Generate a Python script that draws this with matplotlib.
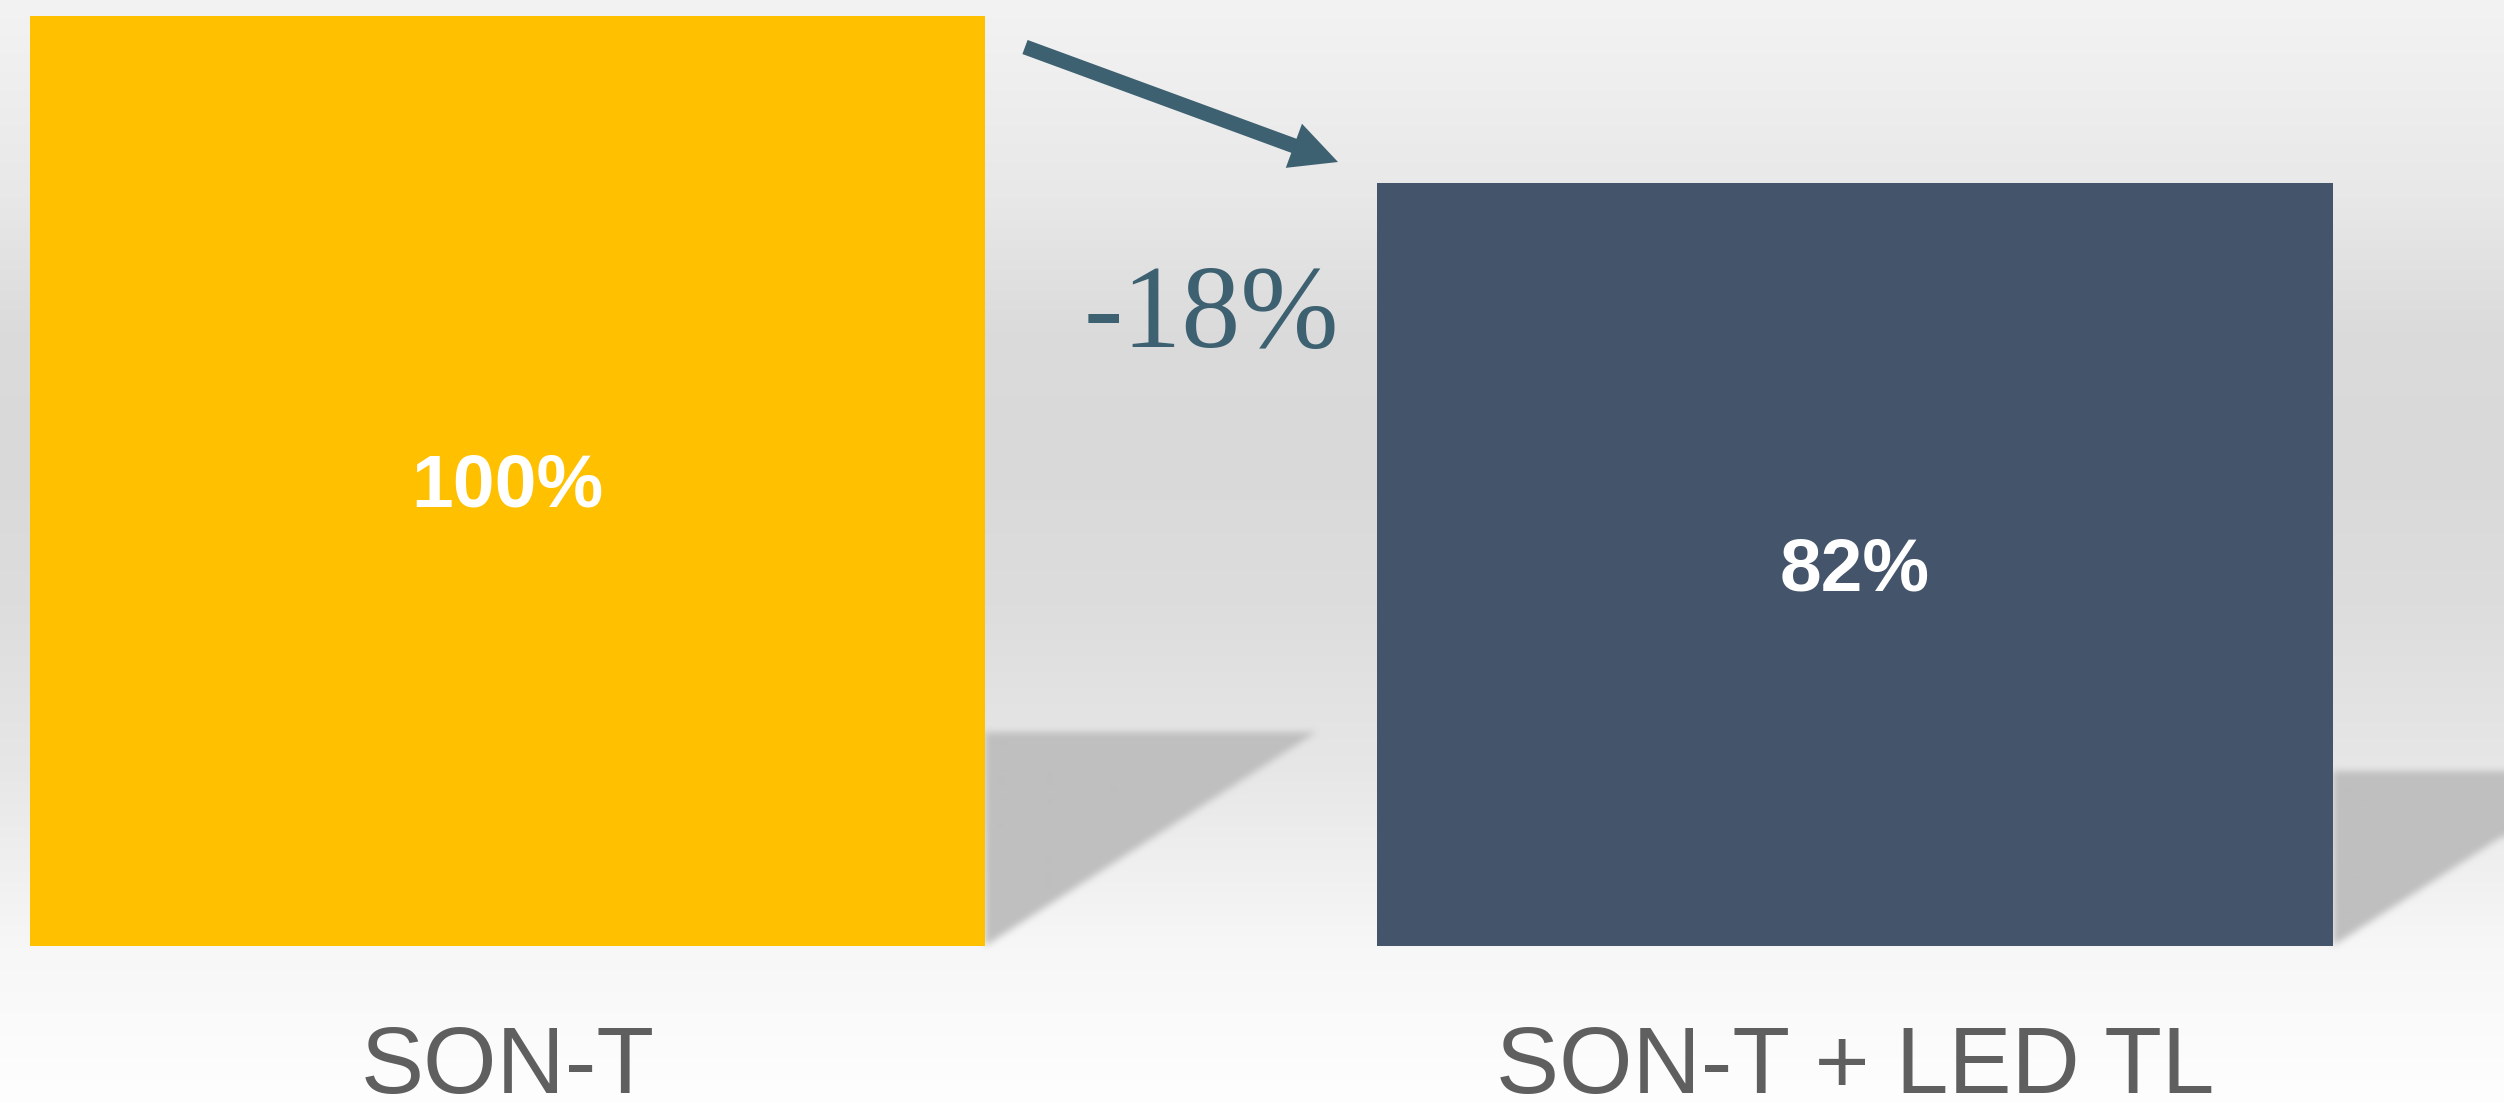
import numpy as np
import matplotlib
matplotlib.use("Agg")
from matplotlib import pyplot as plt
from matplotlib.path import Path
from matplotlib.patches import FancyArrow
from matplotlib.transforms import offset_copy

categories = ['SON-T', 'SON-T + LED TL']
values = [100, 82]
change_label = '-18%'
bar_colors = ['#FFC000', '#44546A']
accent = '#3D6171'
label_grey = '#5f5f5f'

W, H = 2504, 1102

fig = plt.figure(figsize=(W / 100, H / 100), dpi=100)

# full-figure axes in pixel units for the backdrop, arrow and change label
bg_ax = fig.add_axes([0, 0, 1, 1], zorder=0)
bg_ax.axis('off')

ax = fig.add_axes([0, 156 / H, 1, 930 / H], zorder=1)
ax.set_facecolor('none')
ax.bar([0, 1], values, width=0.709, color=bar_colors, zorder=3)
ax.set_xlim(-0.3766, 1.4816)
ax.set_ylim(0, 100)
for s in ax.spines.values():
    s.set_visible(False)
ax.set_yticks([])
ax.set_xticks([0, 1], labels=categories, fontsize=68, color=label_grey,
              family='Liberation Sans')
ax.tick_params(axis='x', length=0, pad=56)

# value labels sit a few pixels below the bar middle
lbl_trans = offset_copy(ax.transData, fig=fig, y=-6, units='dots')
for i, v in enumerate(values):
    ax.text(i, v / 2, f'{v}%', ha='center', va='center', color='white',
            fontsize=54, fontweight='bold', family='Liberation Sans', zorder=4,
            transform=lbl_trans)

# vertical grey gradient behind everything
stops_y = [0.0, 0.18, 0.3, 0.42, 0.55, 0.7, 0.86, 1.0]
stops_v = [243, 232, 219, 217, 221, 231, 247, 254]
rows = (np.arange(H) + 0.5) / H
col = np.interp(rows, stops_y, stops_v)
img = np.repeat(col[:, None], W, axis=1)


def blur1d(a, r, axis):
    a = np.moveaxis(a, axis, -1)
    p = np.pad(a, [(0, 0), (r + 1, r)], mode='edge')
    c = np.cumsum(p, axis=-1)
    out = (c[:, 2 * r + 1:] - c[:, :-2 * r - 1]) / (2 * r + 1)
    return np.moveaxis(out, -1, axis)


# drop shadows cast to the right of each bar, sized from the bar height
gx, gy = np.meshgrid(np.arange(W) + 0.5, np.arange(H) + 0.5)
pts = np.column_stack([gx.ravel(), gy.ravel()])
mask = np.zeros(H * W)
for i, v in enumerate(values):
    (x0, y0), (x1, y1) = ax.transData.transform([(i + 0.709 / 2, 0), (i + 0.709 / 2, v)])
    bottom, top = H - y0, H - y1
    bh = bottom - top
    tri = Path([(x0, bottom), (x0, bottom - 0.23 * bh),
                (x0 + 0.356 * bh, bottom - 0.23 * bh), (x0, bottom)])
    mask = np.maximum(mask, tri.contains_points(pts))
mask = mask.reshape(H, W).astype(float)
for _ in range(3):
    mask = blur1d(mask, 3, 0)
    mask = blur1d(mask, 3, 1)
img = img * (1 - mask) + 191 * mask

rgb = np.clip(np.dstack([img] * 3) / 255.0, 0, 1)
bg_ax.imshow(rgb, extent=(0, W, H, 0), aspect='auto', interpolation='bilinear')
bg_ax.set_xlim(0, W)
bg_ax.set_ylim(H, 0)

bg_ax.add_patch(FancyArrow(1025, 47, 313, 115, width=15, head_width=47,
                           head_length=47, length_includes_head=True,
                           color=accent, lw=0))
bg_ax.text(1211, 347, change_label, ha='center', va='baseline', color=accent,
           fontsize=85, family='Liberation Serif')

fig.savefig('out.png', dpi=100)
